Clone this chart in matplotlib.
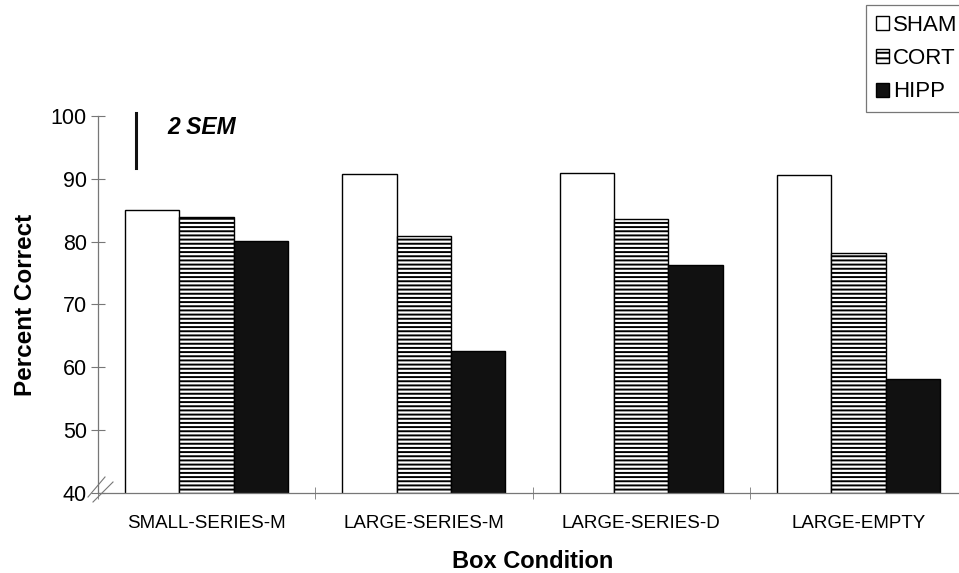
import matplotlib
matplotlib.use("Agg")
import matplotlib.pyplot as plt
import numpy as np
from matplotlib.patches import Patch

plt.rcParams['font.family'] = ['Liberation Sans', 'DejaVu Sans']
plt.rcParams['hatch.linewidth'] = 1.4

categories = ['SMALL-SERIES-M', 'LARGE-SERIES-M', 'LARGE-SERIES-D', 'LARGE-EMPTY']
groups = ['SHAM', 'CORT', 'HIPP']
sham = [85.1, 90.8, 90.9, 90.6]
cort = [83.9, 80.9, 83.6, 78.2]
hipp = [80.1, 62.6, 76.3, 58.2]
sem_bar = [91.7, 100.5]  # 2 SEM scale bar

fig = plt.figure(figsize=(9.59, 5.73), dpi=100)
ax = fig.add_axes([98/959, 80/573, 869/959, 377/573])

x = np.arange(len(categories))
w = 0.25
ax.bar(x - w, sham, w, color='white', edgecolor='black', linewidth=1)
ax.bar(x, cort, w, color='white', edgecolor='black', hatch='----', linewidth=1)
ax.bar(x + w, hipp, w, color='#111111', edgecolor='black', linewidth=1)

ax.set_ylim(40, 100)
ax.set_xlim(-0.5, 3.5)
ax.set_yticks(range(40, 101, 10))
ax.set_xticks(x)
ax.set_xticklabels(categories, fontsize=13.5)
ax.set_xticks(np.arange(-0.5, 4.0, 1), minor=True)
ax.tick_params(axis='x', which='major', length=0, pad=16)
ax.tick_params(axis='x', which='minor', direction='inout', length=9, color='#777777')
ax.tick_params(axis='y', direction='inout', length=10, color='#777777', labelsize=15.5, pad=3)

for s in ['top', 'right']:
    ax.spines[s].set_visible(False)
for s in ['left', 'bottom']:
    ax.spines[s].set_color('#777777')
    ax.spines[s].set_linewidth(0.9)

ax.set_ylabel('Percent Correct', fontsize=17.5, fontweight='bold', labelpad=10)
ax.set_xlabel('Box Condition', fontsize=17, fontweight='bold', labelpad=13)

# 2 SEM scale bar
ax.plot([-0.325, -0.325], sem_bar, color='#111111', linewidth=2.2, clip_on=False)
ax.text(-0.18, 98.1, '2 SEM', fontsize=16.5, fontweight='bold', fontstyle='italic',
        va='center', ha='left')

# axis break marks
ax.plot([88/959, 105/959], [76/573, 96/573], transform=fig.transFigure,
        color='#777777', linewidth=0.8, clip_on=False)
ax.plot([93/959, 113/959], [71/573, 91/573], transform=fig.transFigure,
        color='#777777', linewidth=0.8, clip_on=False)

handles = [Patch(facecolor='white', edgecolor='black', label='SHAM'),
           Patch(facecolor='white', edgecolor='black', hatch='---', label='CORT'),
           Patch(facecolor='#111111', edgecolor='black', label='HIPP')]
leg = fig.legend(handles=handles, loc='upper left', bbox_to_anchor=(866/959, 1 - 5/573),
                 fontsize=16, frameon=True, fancybox=False, handlelength=0.6,
                 handleheight=0.6, handletextpad=0.15, labelspacing=0.55,
                 borderpad=0.45, borderaxespad=0)
leg.get_frame().set_edgecolor('#555555')
leg.get_frame().set_linewidth(0.9)

fig.savefig('out.png', dpi=100)
